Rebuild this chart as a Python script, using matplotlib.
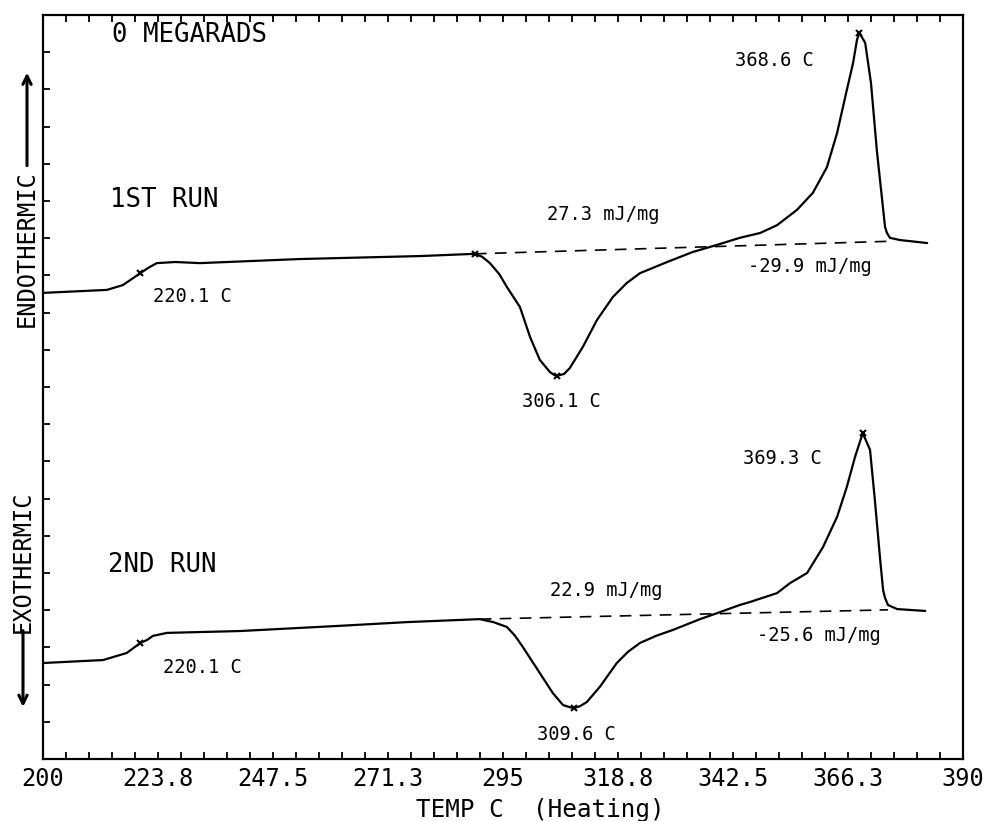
import numpy as np
import matplotlib
matplotlib.use("Agg")
import matplotlib.pyplot as plt
import matplotlib.transforms as mtransforms

# DSC trace, 1st run (temperature C, signal in chart divisions)
run1_temp = [200.0, 213.2, 216.5, 220.1, 221.7, 223.5, 227.3, 232.4, 253.1,
             277.9, 289.2, 290.7, 292.3, 294.2, 295.8, 298.5, 300.6, 302.6,
             304.7, 305.5, 306.1, 307.6, 308.8, 311.5, 314.4, 317.7, 320.6,
             323.3, 328.9, 334.2, 339.2, 343.9, 348.1, 351.6, 355.7, 359.0,
             361.9, 364.0, 366.0, 367.3, 368.1, 368.6, 369.8, 371.0, 372.2,
             373.3, 373.9, 374.3, 374.9, 377.0, 382.6]
run1_sig = [12.53, 12.61, 12.74, 13.06, 13.20, 13.33, 13.36, 13.33, 13.44,
            13.52, 13.58, 13.50, 13.33, 13.04, 12.69, 12.15, 11.34, 10.73,
            10.40, 10.33, 10.30, 10.35, 10.51, 11.08, 11.80, 12.42, 12.80,
            13.06, 13.36, 13.63, 13.82, 14.01, 14.14, 14.35, 14.76, 15.22,
            15.91, 16.83, 17.98, 18.71, 19.33, 19.52, 19.25, 18.17, 16.37,
            15.03, 14.30, 14.14, 14.01, 13.95, 13.87]

# DSC trace, 2nd run
run2_temp = [200.0, 212.4, 217.3, 220.1, 221.5, 222.7, 225.6, 240.7, 261.3,
             275.2, 290.2, 293.0, 295.8, 297.5, 299.1, 302.6, 305.3, 307.4,
             308.6, 309.6, 310.9, 312.3, 315.0, 318.5, 320.8, 323.3, 326.6,
             330.1, 335.7, 339.2, 343.9, 346.0, 351.6, 354.3, 357.8, 361.1,
             364.0, 366.0, 367.7, 369.3, 370.8, 371.8, 372.9, 373.5, 373.9,
             374.5, 376.4, 382.2]
run2_sig = [2.58, 2.66, 2.85, 3.12, 3.20, 3.31, 3.39, 3.44, 3.58,
            3.68, 3.76, 3.68, 3.55, 3.31, 3.01, 2.31, 1.77, 1.45,
            1.40, 1.37, 1.42, 1.53, 1.94, 2.58, 2.88, 3.12, 3.31,
            3.47, 3.76, 3.92, 4.14, 4.22, 4.46, 4.73, 5.00, 5.70,
            6.51, 7.31, 8.12, 8.76, 8.31, 6.96, 5.35, 4.54, 4.33,
            4.14, 4.03, 3.98]

# integration baselines (start, end)
base1_temp = [289.2, 375.5]
base1_sig = [13.58, 13.92]
base2_temp = [290.2, 374.5]
base2_sig = [3.76, 4.01]

# marked points
marks1_temp = [220.1, 289.2, 306.1, 368.6]
marks1_sig = [13.06, 13.58, 10.30, 19.52]
marks2_temp = [220.1, 309.6, 369.3]
marks2_sig = [3.12, 1.37, 8.76]

xtick_vals = [200, 223.75, 247.5, 271.25, 295, 318.75, 342.5, 366.25, 390]
xtick_labels = ["200", "223.8", "247.5", "271.3", "295", "318.8", "342.5", "366.3", "390"]

MONO = "DejaVu Sans Mono"

fig = plt.figure(figsize=(9.87, 8.21), dpi=100)
ax = fig.add_axes([43 / 987, 62 / 821, 920 / 987, 744 / 821])

line_kw = dict(color="black", lw=1.6, solid_joinstyle="round", solid_capstyle="round")
ax.plot(run1_temp, run1_sig, **line_kw)
ax.plot(run2_temp, run2_sig, **line_kw)
ax.plot(base1_temp, base1_sig, color="black", lw=1.2, dashes=(7, 5))
ax.plot(base2_temp, base2_sig, color="black", lw=1.2, dashes=(7, 5))
ax.plot(marks1_temp, marks1_sig, "x", color="black", ms=4, mew=1.5)
ax.plot(marks2_temp, marks2_sig, "x", color="black", ms=4, mew=1.5)

ax.set_xlim(200, 390)
ax.set_ylim(0, 20)

ax.set_xticks(xtick_vals)
ax.set_xticklabels(xtick_labels, fontfamily=MONO, fontsize=17)
ax.set_xticks(np.arange(200, 390.01, 4.75), minor=True)
ax.set_yticks(np.arange(0, 21, 1))
ax.set_yticklabels([])
ax.tick_params(axis="x", which="both", direction="in", top=True, bottom=True,
               length=5, width=1.3, pad=6)
ax.tick_params(axis="y", which="both", direction="in", left=True, right=False,
               length=5, width=1.3)
for sp in ax.spines.values():
    sp.set_linewidth(1.6)

# annotations
big = dict(fontfamily=MONO, fontsize=18.5, va="center", ha="left")
small = dict(fontfamily=MONO, fontsize=13.5, va="center", ha="left")
ax.text(214.3, 19.46, "0 MEGARADS", **big)
ax.text(213.8, 15.03, "1ST RUN", **big)
ax.text(213.4, 5.22, "2ND RUN", **big)

ax.text(222.7, 12.42, "220.1 C", **small)
ax.text(298.9, 9.60, "306.1 C", **small)
ax.text(304.1, 14.65, "27.3 mJ/mg", **small)
ax.text(345.6, 13.23, "-29.9 mJ/mg", **small)
ax.text(342.9, 18.79, "368.6 C", **small)

ax.text(224.8, 2.45, "220.1 C", **small)
ax.text(302.0, 0.65, "309.6 C", **small)
ax.text(304.7, 4.54, "22.9 mJ/mg", **small)
ax.text(347.5, 3.33, "-25.6 mJ/mg", **small)
ax.text(344.6, 8.09, "369.3 C", **small)

# x axis title
ax.text(0.541, -0.0685, "TEMP C  (Heating)", transform=ax.transAxes,
        fontfamily=MONO, fontsize=17.5, ha="center", va="center")

# side labels with arrows
trans = mtransforms.blended_transform_factory(ax.transAxes, ax.transData)
ax.text(-16 / 920, 13.72, "ENDOTHERMIC", transform=trans, rotation=90,
        fontfamily=MONO, fontsize=17, ha="center", va="center", clip_on=False)
ax.annotate("", xy=(-16 / 920, 18.45), xycoords=trans,
            xytext=(-16 / 920, 15.95), textcoords=trans,
            arrowprops=dict(arrowstyle="->,head_length=0.6,head_width=0.3",
                            lw=2.2, color="black", shrinkA=0, shrinkB=0))
ax.text(-20 / 920, 5.31, "EXOTHERMIC", transform=trans, rotation=90,
        fontfamily=MONO, fontsize=17, ha="center", va="center", clip_on=False)
ax.annotate("", xy=(-20 / 920, 1.40), xycoords=trans,
            xytext=(-20 / 920, 3.45), textcoords=trans,
            arrowprops=dict(arrowstyle="->,head_length=0.6,head_width=0.3",
                            lw=2.2, color="black", shrinkA=0, shrinkB=0))

fig.savefig("out.png", dpi=100)
